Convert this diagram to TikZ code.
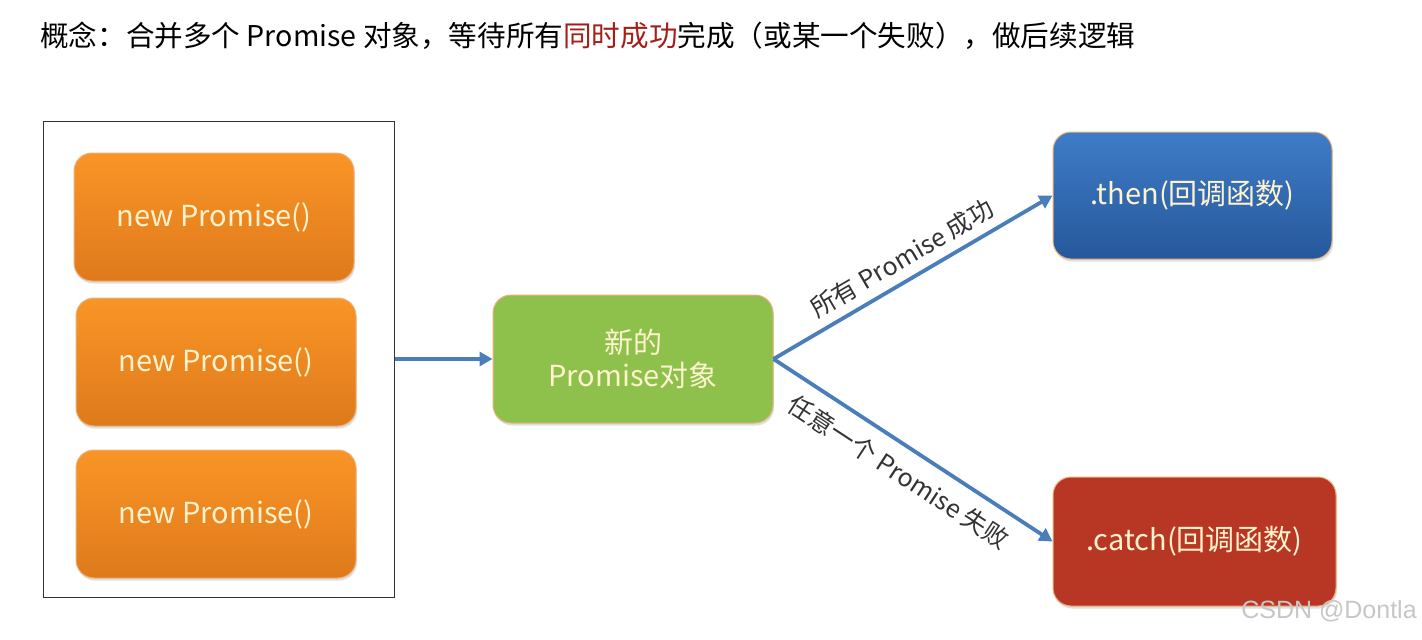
\documentclass[tikz,border=0pt]{standalone}
\usepackage{fontspec}
\setmainfont{Noto Sans CJK SC}
\newfontfamily\wmfont{Liberation Sans}
\usetikzlibrary{arrows.meta,shadows}
\definecolor{orangeT}{HTML}{F99526}
\definecolor{orangeB}{HTML}{DF7A1C}
\definecolor{greenF}{HTML}{8DC14B}
\definecolor{blueT}{HTML}{3E7CC7}
\definecolor{blueB}{HTML}{26589B}
\definecolor{redF}{HTML}{B83724}
\definecolor{edgeTan}{HTML}{E9B27A}
\definecolor{arrowBlue}{HTML}{4A7EBB}
\definecolor{boxText}{HTML}{FFF3CF}
\definecolor{titleRed}{HTML}{A3201A}
\tikzset{
  pbox/.style={rounded corners=18pt, draw=edgeTan, line width=1pt, text=boxText,
    font=\fontsize{29}{33}\selectfont, align=center,
    drop shadow={opacity=0.25, shadow xshift=1pt, shadow yshift=-2.5pt}},
  orangebox/.style={pbox, top color=orangeT, bottom color=orangeB, minimum width=280pt, minimum height=128pt},
  flow/.style={draw=arrowBlue, line width=3.8pt, -{Triangle[length=13pt,width=14pt]}},
  elabel/.style={font=\fontsize{25}{28}\selectfont, text=black!80, sloped},
}
\begin{document}
\begin{tikzpicture}[x=1pt,y=-1pt]
\useasboundingbox (0,0) rectangle (1422,640);
\fill[white] (0,0) rectangle (1422,640);
\node[anchor=west, font=\fontsize{28.6}{32}\selectfont, inner sep=0pt] (title) at (40,36)
  {概念：合并多个 Promise 对象，等待所有{\color{titleRed}同时成功}完成（或某一个失败），做后续逻辑};
\node[draw=black!80, line width=1pt, minimum width=351pt, minimum height=476pt, inner sep=0pt] (group) at (218.5,359) {};
\node[orangebox] (p1) at (214,217) {new Promise()};
\node[orangebox] (p2) at (216,362) {new Promise()};
\node[orangebox] (p3) at (216,514) {new Promise()};
\node[pbox, fill=greenF, minimum width=280pt, minimum height=128pt] (all) at (633,359) {新的\\[0pt]Promise对象};
\node[pbox, top color=blueT, bottom color=blueB, minimum width=279pt, minimum height=127pt] (then) at (1192.5,195.5) {.then(回调函数)};
\node[pbox, fill=redF, minimum width=283pt, minimum height=129pt] (catch) at (1194.5,541.5) {.catch(回调函数)};
\draw[flow] (group.east |- all.west) -- (all.west);
\draw[flow] (all.east) -- (then.west) node[midway, above=5pt, elabel] (l1) {所有 Promise 成功};
\draw[flow] (all.east) -- (catch.west) node[midway, below=9pt, elabel] (l2) {任意一个 Promise 失败};
\node[font=\wmfont\fontsize{25}{27}\selectfont, text=black!22] (wm) at (1329,611) {CSDN @Dontla};
\end{tikzpicture}
\end{document}
